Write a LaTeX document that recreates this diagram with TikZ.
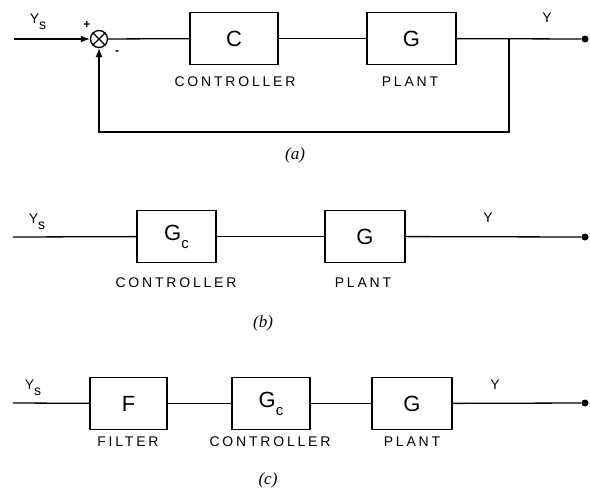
\documentclass[tikz,border=0pt]{standalone}
\usepackage{fontspec}
\setsansfont{Liberation Sans}
\newfontfamily\lblfont[LetterSpace=20]{Liberation Sans}
\newfontfamily\capfont{Liberation Serif}
\usetikzlibrary{arrows.meta}
\begin{document}
\begin{tikzpicture}[x=1pt,y=-1pt,
  wire/.style={line width=1.3pt},
  blk/.style={draw, line width=1.3pt, minimum height=52pt, inner sep=0pt,
    font=\sffamily\fontsize{22}{22}\selectfont},
  lbl/.style={inner sep=0pt, font=\lblfont\fontsize{14}{14}\selectfont},
  sig/.style={inner sep=0pt, font=\sffamily\fontsize{14}{14}\selectfont},
  pm/.style={inner sep=0pt, font=\sffamily\bfseries\fontsize{12}{12}\selectfont},
  figcap/.style={inner sep=0pt, font=\capfont\itshape\fontsize{17}{17}\selectfont},
  dot/.style={circle, fill, inner sep=0pt, minimum size=7pt},
  sumc/.style={draw, circle, line width=1.3pt, minimum size=17pt, inner sep=0pt},
  arr/.style={wire, -{Latex[length=9pt,width=7pt]}}]
\useasboundingbox (0,0) rectangle (590,493);

% ---------- (a)
\coordinate (inA) at (14,39);
\node[sumc] (sum) at (99,39) {};
\draw[line width=1.3pt] (sum.north west) -- (sum.south east) (sum.north east) -- (sum.south west);
\node[blk, minimum width=88pt] (cA) at (234,38.5) {C};
\node[blk, minimum width=89pt] (gA) at (411.5,38.5) {G};
\coordinate (brA) at (509,39);
\coordinate (fbA) at (509,132);
\node[dot] (outA) at (585,39) {};
\draw[arr] (inA) -- (sum);
\draw[wire] (sum) -- (cA);
\draw[wire] (cA) -- (gA);
\draw[wire] (gA) -- (outA);
\draw[arr] (brA) -- (fbA) -| (sum.south);
\node[sig] (ysA) at (38,22) {Y\raisebox{-6pt}{s}};
\node[pm] (plus) at (87,25) {+};
\node[pm] (minus) at (117,53) {-};
\node[sig] (yA) at (547,18) {Y};
\node[lbl] (ctlA) at (235,82) {CONTROLLER};
\node[lbl] (plA) at (410,82) {PLANT};
\node[figcap] (capA) at (295,155) {(a)};

% ---------- (b)
\coordinate (inB) at (13,237);
\node[blk, minimum width=79pt] (cB) at (176.5,236.5) {G\raisebox{-8pt}{\fontsize{15}{15}\selectfont c}};
\node[blk, minimum width=80pt] (gB) at (365,236.5) {G};
\node[dot] (outB) at (585,237) {};
\draw[wire] (inB) -- (cB);
\draw[wire] (cB) -- (gB);
\draw[wire] (gB) -- (outB);
\node[sig] (ysB) at (37,222) {Y\raisebox{-6pt}{s}};
\node[sig] (yB) at (488,218) {Y};
\node[lbl] (ctlB) at (176,283) {CONTROLLER};
\node[lbl] (plB) at (363,283) {PLANT};
\node[figcap] (capB) at (263,323) {(b)};

% ---------- (c)
\coordinate (inC) at (13,403);
\node[blk, minimum width=77pt] (fC) at (128.5,403.5) {F};
\node[blk, minimum width=78pt] (cC) at (271,403.5) {G\raisebox{-8pt}{\fontsize{15}{15}\selectfont c}};
\node[blk, minimum width=80pt] (gC) at (412,403.5) {G};
\node[dot] (outC) at (585,403) {};
\draw[wire] (inC) -- (fC);
\draw[wire] (fC) -- (cC);
\draw[wire] (cC) -- (gC);
\draw[wire] (gC) -- (outC);
\node[sig] (ysC) at (33,388) {Y\raisebox{-6pt}{s}};
\node[sig] (yC) at (495,385) {Y};
\node[lbl] (fltC) at (128,442) {FILTER};
\node[lbl] (ctlC) at (270,442) {CONTROLLER};
\node[lbl] (plC) at (412,442) {PLANT};
\node[figcap] (capC) at (268,480) {(c)};
\end{tikzpicture}
\end{document}
